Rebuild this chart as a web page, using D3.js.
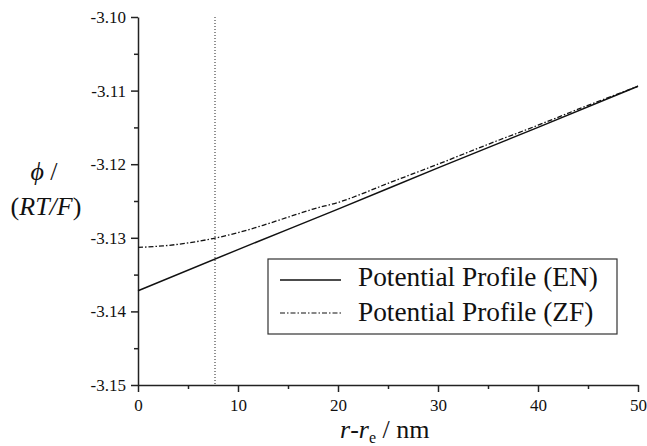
<!DOCTYPE html>
<html>
<head>
<meta charset="utf-8">
<script src="https://cdn.jsdelivr.net/npm/d3@7"></script>
</head>
<body style="margin:0">
<script>
// distance r - r_e (nm)
var distEN = [0, 10, 20, 30, 40, 50];
var phiEN = [-3.1372, -3.1316, -3.1261, -3.1205, -3.1150, -3.1094];

var distZF = [0, 2.5, 5, 7.5, 10, 12.5, 15, 17.5, 20, 25, 30, 35, 40, 45, 50];
var phiZF = [-3.1313, -3.1311, -3.1307, -3.1301, -3.1293, -3.1283, -3.1272, -3.1261,
             -3.1252, -3.1226, -3.1200, -3.1173, -3.1147, -3.1120, -3.1094];

var markerX = 7.7;
var seriesNames = ["Potential Profile (EN)", "Potential Profile (ZF)"];
var xTicks = [0, 10, 20, 30, 40, 50];
var yTicks = [-3.10, -3.11, -3.12, -3.13, -3.14, -3.15];

var fontName = "Liberation Serif";
var margin = { top: 17, right: 9, bottom: 61, left: 138 };
var width = 647 - margin.left - margin.right,
    height = 446 - margin.top - margin.bottom;

var svg = d3.select("body").append("svg")
    .attr("width", 647)
    .attr("height", 446);
var g = svg.append("g")
    .attr("transform", "translate(" + margin.left + "," + margin.top + ")");

var x = d3.scaleLinear().domain([0, 50]).range([0, width]);
var y = d3.scaleLinear().domain([-3.15, -3.10]).range([height, 0]);

// minor ticks
g.append("g")
    .attr("transform", "translate(0," + height + ")")
    .call(d3.axisBottom(x).tickValues(d3.range(5, 50, 10)).tickSize(4).tickFormat(""))
    .call(function(a) { a.select(".domain").remove(); });
g.append("g")
    .call(d3.axisLeft(y).tickValues([-3.105, -3.115, -3.125, -3.135, -3.145]).tickSize(4).tickFormat(""))
    .call(function(a) { a.select(".domain").remove(); });

g.append("g")
    .attr("transform", "translate(0," + height + ")")
    .call(d3.axisBottom(x).tickValues(xTicks).tickSize(7).tickSizeOuter(0).tickPadding(7));
g.append("g")
    .call(d3.axisLeft(y).tickValues(yTicks).tickSize(7).tickSizeOuter(0).tickPadding(5)
        .tickFormat(function(d) { return d.toFixed(2); }));

g.selectAll(".tick line").attr("stroke", "#222").attr("stroke-width", 1.5);
g.selectAll(".domain").attr("stroke", "#222").attr("stroke-width", 1.5);
g.selectAll(".tick text")
    .attr("fill", "#111")
    .style("font-family", fontName)
    .style("font-size", "17px");

// dotted marker line
g.append("line")
    .attr("x1", x(markerX)).attr("x2", x(markerX))
    .attr("y1", 0).attr("y2", height)
    .attr("stroke", "#222").attr("stroke-width", 1)
    .attr("stroke-dasharray", "1,2");

var line = d3.line()
    .x(function(d) { return x(d[0]); })
    .y(function(d) { return y(d[1]); })
    .curve(d3.curveMonotoneX);

g.append("path")
    .datum(d3.zip(distEN, phiEN))
    .attr("fill", "none").attr("stroke", "#111").attr("stroke-width", 1.5)
    .attr("d", line);

g.append("path")
    .datum(d3.zip(distZF, phiZF))
    .attr("fill", "none").attr("stroke", "#111").attr("stroke-width", 1.3)
    .attr("stroke-dasharray", "5,2,1.5,2")
    .attr("d", line);

// legend
var legend = svg.append("g").attr("transform", "translate(268,259)");
legend.append("rect")
    .attr("width", 349).attr("height", 75)
    .attr("fill", "#fff").attr("stroke", "#333").attr("stroke-width", 1.2);
seriesNames.forEach(function(name, i) {
    var cy = 21 + i * 33;
    legend.append("line")
        .attr("x1", 12).attr("x2", 73).attr("y1", cy).attr("y2", cy)
        .attr("stroke", "#111").attr("stroke-width", i == 0 ? 1.5 : 1.2)
        .attr("stroke-dasharray", i == 0 ? null : "5,2,1.5,2");
    var t = legend.append("text")
        .attr("x", 90).attr("y", 27 + i * 35)
        .attr("fill", "#111")
        .style("font-family", fontName)
        .style("font-size", "27px")
        .text(name);
    // fit the first entry to the reference width, keep both the same size
    if (i == 0) {
        var len = t.node().getComputedTextLength();
        legend.fontSize = Math.min(29, Math.max(25, 27 * 240 / len));
    }
    t.style("font-size", legend.fontSize + "px");
});

// axis titles
var t1 = svg.append("text")
    .attr("x", 44).attr("y", 180)
    .attr("text-anchor", "middle")
    .attr("fill", "#111")
    .style("font-family", fontName)
    .style("font-size", "26px");
t1.append("tspan").attr("font-style", "italic").text("\u03D5");
t1.append("tspan").text(" /");

var t2 = svg.append("text")
    .attr("x", 46).attr("y", 215)
    .attr("text-anchor", "middle")
    .attr("fill", "#111")
    .style("font-family", fontName)
    .style("font-size", "26px");
t2.append("tspan").text("(");
t2.append("tspan").attr("font-style", "italic").text("RT/F");
t2.append("tspan").text(")");

var t3 = svg.append("text")
    .attr("x", 340).attr("y", 438)
    .attr("fill", "#111")
    .style("font-family", fontName)
    .style("font-size", "26px");
t3.append("tspan").attr("font-style", "italic").text("r");
t3.append("tspan").text("-");
t3.append("tspan").attr("font-style", "italic").text("r");
t3.append("tspan").attr("dy", 5).attr("font-size", 16).text("e");
t3.append("tspan").attr("dy", -5).text(" / nm");
</script>
</body>
</html>
